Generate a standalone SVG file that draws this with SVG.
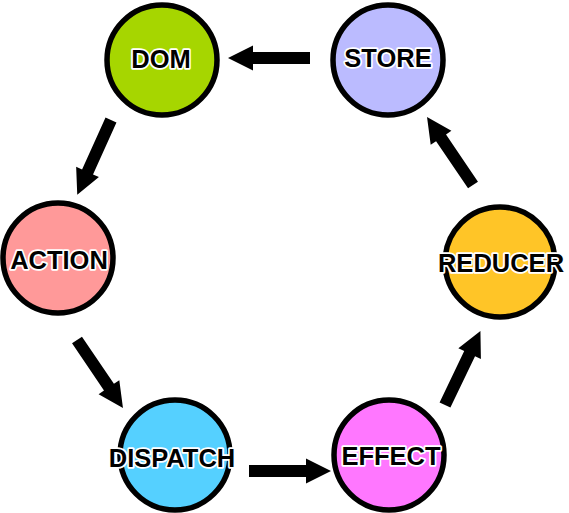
<svg xmlns="http://www.w3.org/2000/svg" xmlns:xlink="http://www.w3.org/1999/xlink" width="569" height="513" viewBox="0 0 569 513">
<style>
.n{stroke:#000;stroke-width:5.5}
.t{font-family:"Liberation Sans",Arial,sans-serif;font-weight:bold;font-size:25.5px;text-anchor:middle;fill:#000;stroke:#fff;stroke-width:3.5;stroke-linejoin:round;paint-order:stroke}
.a{fill:#000}
</style>
<defs>
<path id="arr" d="M0,-6 H57 V-12.5 L82,0 L57,12.5 V6 H0 Z"/>
</defs>
<rect width="569" height="513" fill="#fff"/>
<g id="connectors" class="a">
<use xlink:href="#arr" transform="translate(310,58) rotate(180)"/>
<use xlink:href="#arr" transform="translate(111,120) rotate(114.3)"/>
<use xlink:href="#arr" transform="translate(77,340) rotate(55.9)"/>
<use xlink:href="#arr" transform="translate(249,471)"/>
<use xlink:href="#arr" transform="translate(445,405) rotate(-64.4)"/>
<use xlink:href="#arr" transform="translate(473,185) rotate(-124.1)"/>
</g>
<g id="dom"><circle class="n" cx="162" cy="60" r="55" fill="#a6d600"/><text class="t" x="161" y="68.2">DOM</text></g>
<g id="store"><circle class="n" cx="388" cy="60" r="55" fill="#bbbbff"/><text class="t" x="388" y="67.2">STORE</text></g>
<g id="reducer"><circle class="n" cx="500" cy="262" r="55" fill="#ffc527"/><text class="t" x="501" y="271.6">REDUCER</text></g>
<g id="effect"><circle class="n" cx="389" cy="455" r="55" fill="#ff77ff"/><text class="t" x="391" y="465.2">EFFECT</text></g>
<g id="dispatch"><circle class="n" cx="175" cy="455" r="55" fill="#55d0ff"/><text class="t" x="172" y="466.6">DISPATCH</text></g>
<g id="action"><circle class="n" cx="58" cy="258" r="55" fill="#ff9999"/><text class="t" x="59" y="269.2">ACTION</text></g>
</svg>
